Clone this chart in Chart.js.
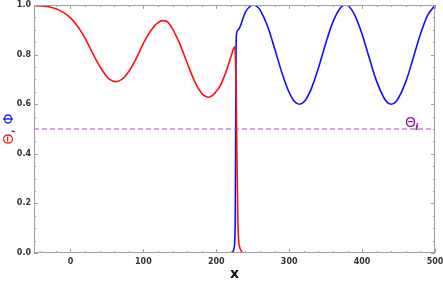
<!DOCTYPE html>
<html>
<head>
<meta charset="utf-8">
<script src="https://cdn.jsdelivr.net/npm/chart.js@4.4.1/dist/chart.umd.min.js"></script>
<style>
  html, body { margin: 0; padding: 0; background: #fff; }
  #wrap { width: 443px; height: 283px; position: relative; }
</style>
</head>
<body>
<div id="wrap"><canvas id="Chart"></canvas></div>
<script>
// Theta (red)
const thetaX = [-50, -40, -30, -20, -10, 0, 10, 20, 30, 40, 50, 55, 62, 70, 75, 80, 85, 90, 100, 110, 120, 127, 133, 140, 150, 160, 170, 180, 185, 189, 195, 200, 205, 210, 215, 220, 225.5, 227.5, 228.5, 229.5, 230.5, 232, 234, 237, 260, 300, 400, 500];
const thetaY = [0.998, 0.996, 0.993, 0.985, 0.97, 0.948, 0.913, 0.866, 0.808, 0.753, 0.711, 0.698, 0.691, 0.699, 0.713, 0.732, 0.756, 0.783, 0.845, 0.895, 0.929, 0.937, 0.932, 0.904, 0.843, 0.767, 0.694, 0.644, 0.632, 0.628, 0.636, 0.652, 0.672, 0.705, 0.745, 0.79, 0.832, 0.6, 0.35, 0.15, 0.06, 0.025, 0.01, 0, 0, 0, 0, 0];
// Phi (blue)
const phiX = [-50, 0, 100, 200, 220, 222, 224, 225.5, 226, 226.5, 227, 227.5, 230, 240, 245, 251, 257, 260, 270, 280, 290, 300, 307, 314, 321, 330, 340, 350, 360, 371, 377, 383, 390, 400, 410, 420, 433, 440, 447, 460, 470, 480, 490, 500];
const phiY = [0, 0, 0, 0, 0, 0.003, 0.015, 0.06, 0.15, 0.4, 0.75, 0.875, 0.9, 0.971, 0.991, 1.0, 0.991, 0.98, 0.917, 0.825, 0.727, 0.647, 0.612, 0.6, 0.612, 0.66, 0.745, 0.844, 0.932, 0.991, 1.0, 0.991, 0.959, 0.882, 0.785, 0.692, 0.612, 0.6, 0.612, 0.691, 0.785, 0.882, 0.959, 0.998];
const thetaI = 0.5;
const xTicks = [0, 100, 200, 300, 400, 500];
const yTicks = [0, 0.2, 0.4, 0.6, 0.8, 1.0];

const pts = (xs, ys) => xs.map((x, i) => ({ x: x, y: ys[i] }));

const frameColor = '#a0a0a0';
const tickFont = { family: 'DejaVu Sans', size: 8, weight: 'bold' };

const framePlugin = {
    id: 'frame',
    afterDraw(chart) {
        const { ctx, chartArea: a, scales } = chart;
        const sx = scales.x, sy = scales.y;
        ctx.save();
        ctx.strokeStyle = frameColor;
        ctx.lineWidth = 1;
        ctx.strokeRect(a.left + 0.5, a.top + 0.5, a.right - a.left - 1, a.bottom - a.top - 1);
        // x ticks (major 100, minor 20) top and bottom, pointing inward
        ctx.beginPath();
        for (let v = -40; v <= 500; v += 20) {
            const px = Math.round(sx.getPixelForValue(v)) + 0.5;
            const len = v % 100 === 0 ? 4 : 2;
            ctx.moveTo(px, a.bottom); ctx.lineTo(px, a.bottom - len);
            ctx.moveTo(px, a.top); ctx.lineTo(px, a.top + len);
        }
        for (let k = 0; k <= 20; k++) {
            const v = k * 0.05;
            const py = Math.round(sy.getPixelForValue(v)) + 0.5;
            const len = k % 4 === 0 ? 4 : 2;
            ctx.moveTo(a.left, py); ctx.lineTo(a.left + len, py);
            ctx.moveTo(a.right, py); ctx.lineTo(a.right - len, py);
        }
        ctx.stroke();

        // Theta_i label
        const yi = sy.getPixelForValue(thetaI);
        ctx.fillStyle = '#8a1f9a';
        ctx.font = '14px "DejaVu Sans"';
        ctx.textBaseline = 'alphabetic';
        ctx.fillText('\u0398', 405, yi - 2);
        ctx.font = 'italic bold 10px "DejaVu Serif"';
        ctx.fillText('i', 415, yi + 1);

        // y axis title: Θ (red), Φ (blue)
        ctx.translate(9, (a.top + a.bottom) / 2);
        ctx.rotate(-Math.PI / 2);
        ctx.font = '14px "DejaVu Sans"';
        ctx.textBaseline = 'middle';
        const parts = [['\u0398', '#ff1a1a'], [', ', '#222'], ['\u03A6', '#1a1aff']];
        let total = parts.reduce((s, p) => s + ctx.measureText(p[0]).width, 0);
        let cx = -total / 2;
        parts.forEach(p => {
            ctx.fillStyle = p[1];
            ctx.fillText(p[0], cx, 0);
            cx += ctx.measureText(p[0]).width;
        });
        ctx.restore();
    }
};

const ctx = document.getElementById('Chart').getContext('2d');
new Chart(ctx, {
    type: 'line',
    data: {
        datasets: [
            {
                label: 'Theta_i',
                data: pts([-50, 500], [thetaI, thetaI]),
                borderColor: '#a64fb5',
                borderWidth: 1.2,
                borderDash: [5, 3],
                pointRadius: 0,
                fill: false
            },
            {
                label: 'Theta',
                data: pts(thetaX, thetaY),
                borderColor: '#ff1010',
                borderWidth: 1.6,
                pointRadius: 0,
                cubicInterpolationMode: 'monotone',
                fill: false
            },
            {
                label: 'Phi',
                data: pts(phiX, phiY),
                borderColor: '#1010ff',
                borderWidth: 1.6,
                pointRadius: 0,
                cubicInterpolationMode: 'monotone',
                fill: false
            }
        ]
    },
    options: {
        responsive: true,
        maintainAspectRatio: false,
        animation: false,
        layout: { padding: { top: 5, right: 8, left: 0, bottom: 0 } },
        plugins: { legend: { display: false }, tooltip: { enabled: false } },
        scales: {
            x: {
                type: 'linear',
                min: -50,
                max: 500,
                afterBuildTicks: s => { s.ticks = xTicks.map(v => ({ value: v })); },
                afterFit: s => { s.height = 30; s.paddingLeft = 0; s.paddingRight = 0; },
                grid: { display: false, drawTicks: false },
                border: { display: false },
                ticks: { color: '#333', font: tickFont, padding: 4, maxRotation: 0 },
                title: { display: true, text: 'x', color: '#111', font: { family: 'DejaVu Sans', size: 14, weight: 'bold' }, padding: 0 }
            },
            y: {
                min: 0,
                max: 1,
                afterBuildTicks: s => { s.ticks = yTicks.map(v => ({ value: v })); },
                afterFit: s => { s.width = 34; s.paddingTop = 0; s.paddingBottom = 0; },
                grid: { display: false, drawTicks: false },
                border: { display: false },
                ticks: { color: '#333', font: tickFont, padding: 3, callback: v => v.toFixed(1) }
            }
        }
    },
    plugins: [framePlugin]
});
</script>
</body>
</html>
